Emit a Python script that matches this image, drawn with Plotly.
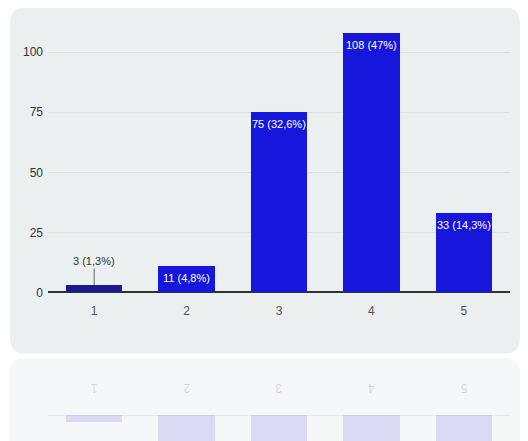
import plotly.graph_objects as go

categories = ["1", "2", "3", "4", "5"]
counts = [3, 11, 75, 108, 33]
percent_labels = ["1,3%", "4,8%", "32,6%", "47%", "14,3%"]
y_ticks = [0, 25, 50, 75, 100]

# page has an 8px body margin; the capture squeezes the page slightly in height
OFF = 8
K = 0.98
W, H = 528 - 2 * OFF, 442
def px(sx):
    return (sx - OFF) / W
def py(sy):
    return (H - (sy / K - OFF)) / H

BAR = "#1616dc"
BAR_COLORS = ["#17178f", BAR, BAR, BAR, BAR]
FONT = "Liberation Sans, Arial, sans-serif"

labels = [f"{c} ({p})" for c, p in zip(counts, percent_labels)]
xs = [1, 2, 3, 4, 5]

PLOT_L, PLOT_R, PLOT_T, PLOT_B = 48, 510, 28, 291
YMAX = 110
REFL_AXIS = 413

fig = go.Figure()
fig.add_trace(go.Bar(x=xs, y=counts, marker_color=BAR_COLORS, width=0.61,
                     marker_line_width=0, hoverinfo="skip", xaxis="x", yaxis="y"))
fig.add_trace(go.Bar(x=xs, y=counts, marker_color=BAR, width=0.61, opacity=0.12,
                     marker_line_width=0, hoverinfo="skip", xaxis="x2", yaxis="y2"))

annotations = []
for x, c, lab in zip(xs, counts, labels):
    if c < 8:
        annotations.append(dict(x=x, y=c, xref="x", yref="y", text=lab, showarrow=True,
                                arrowhead=0, arrowwidth=1, arrowcolor="#666", ax=0, ay=-24,
                                font=dict(family=FONT, size=11, color="#333")))
    else:
        annotations.append(dict(x=x, y=c, xref="x", yref="y", text=lab, showarrow=False,
                                yanchor="top", yshift=-4,
                                font=dict(family=FONT, size=11, color="white")))
for x, cat in zip(xs, categories):
    annotations.append(dict(x=x, y=py(395), xref="x", yref="paper", text=cat,
                            showarrow=False, textangle=180,
                            font=dict(family=FONT, size=12, color="rgba(90,90,90,0.22)")))

def rounded(x0, y0, x1, y1, r):
    a, b, c, d = px(x0), py(y0), px(x1), py(y1)
    rx, ry = r / W, r / H
    return (f"M {a+rx} {b} L {c-rx} {b} Q {c} {b} {c} {b-ry} L {c} {d+ry} Q {c} {d} {c-rx} {d} "
            f"L {a+rx} {d} Q {a} {d} {a} {d+ry} L {a} {b-ry} Q {a} {b} {a+rx} {b} Z")

shapes = [
    dict(type="path", xref="paper", yref="paper", layer="below",
         path=rounded(10, 7, 520, 352, 16), fillcolor="#eceff0", line=dict(width=0)),
    dict(type="path", xref="paper", yref="paper", layer="below",
         path=rounded(10, 356, 520, 480, 16), fillcolor="#f6f7f8", line=dict(width=0)),
    dict(type="line", xref="x2", yref="y2", x0=0.5, x1=5.5, y0=0, y1=0,
         line=dict(color="rgba(80,80,80,0.22)", width=1)),
]

main_px_per_unit = (py(PLOT_T) - py(PLOT_B)) * H / YMAX
refl_depth = py(REFL_AXIS) * H / main_px_per_unit

fig.update_layout(
    width=W, height=H,
    margin=dict(l=0, r=0, t=0, b=0),
    paper_bgcolor="white", plot_bgcolor="rgba(0,0,0,0)",
    showlegend=False, bargap=0,
    font=dict(family=FONT, size=12, color="#333"),
    xaxis=dict(domain=[px(PLOT_L), px(PLOT_R)], range=[0.5, 5.5], tickvals=xs, ticktext=categories,
               showgrid=False, zeroline=False, showline=False, ticks="", ticklabelstandoff=10,
               tickfont=dict(size=12, color="#555"), anchor="y"),
    yaxis=dict(domain=[py(PLOT_B), py(PLOT_T)], range=[0, YMAX], tickvals=y_ticks,
               showgrid=True, gridcolor="#dcdfe2", gridwidth=1, zeroline=True,
               zerolinecolor="#333", zerolinewidth=1.5, ticks="", ticklabelstandoff=4,
               tickfont=dict(size=12, color="#333"), anchor="x"),
    xaxis2=dict(domain=[px(PLOT_L), px(PLOT_R)], range=[0.5, 5.5], visible=False, anchor="y2"),
    yaxis2=dict(domain=[0, py(REFL_AXIS)], range=[refl_depth, 0], visible=False, anchor="x2"),
    annotations=annotations,
    shapes=shapes,
)

fig.write_html("out.html")
